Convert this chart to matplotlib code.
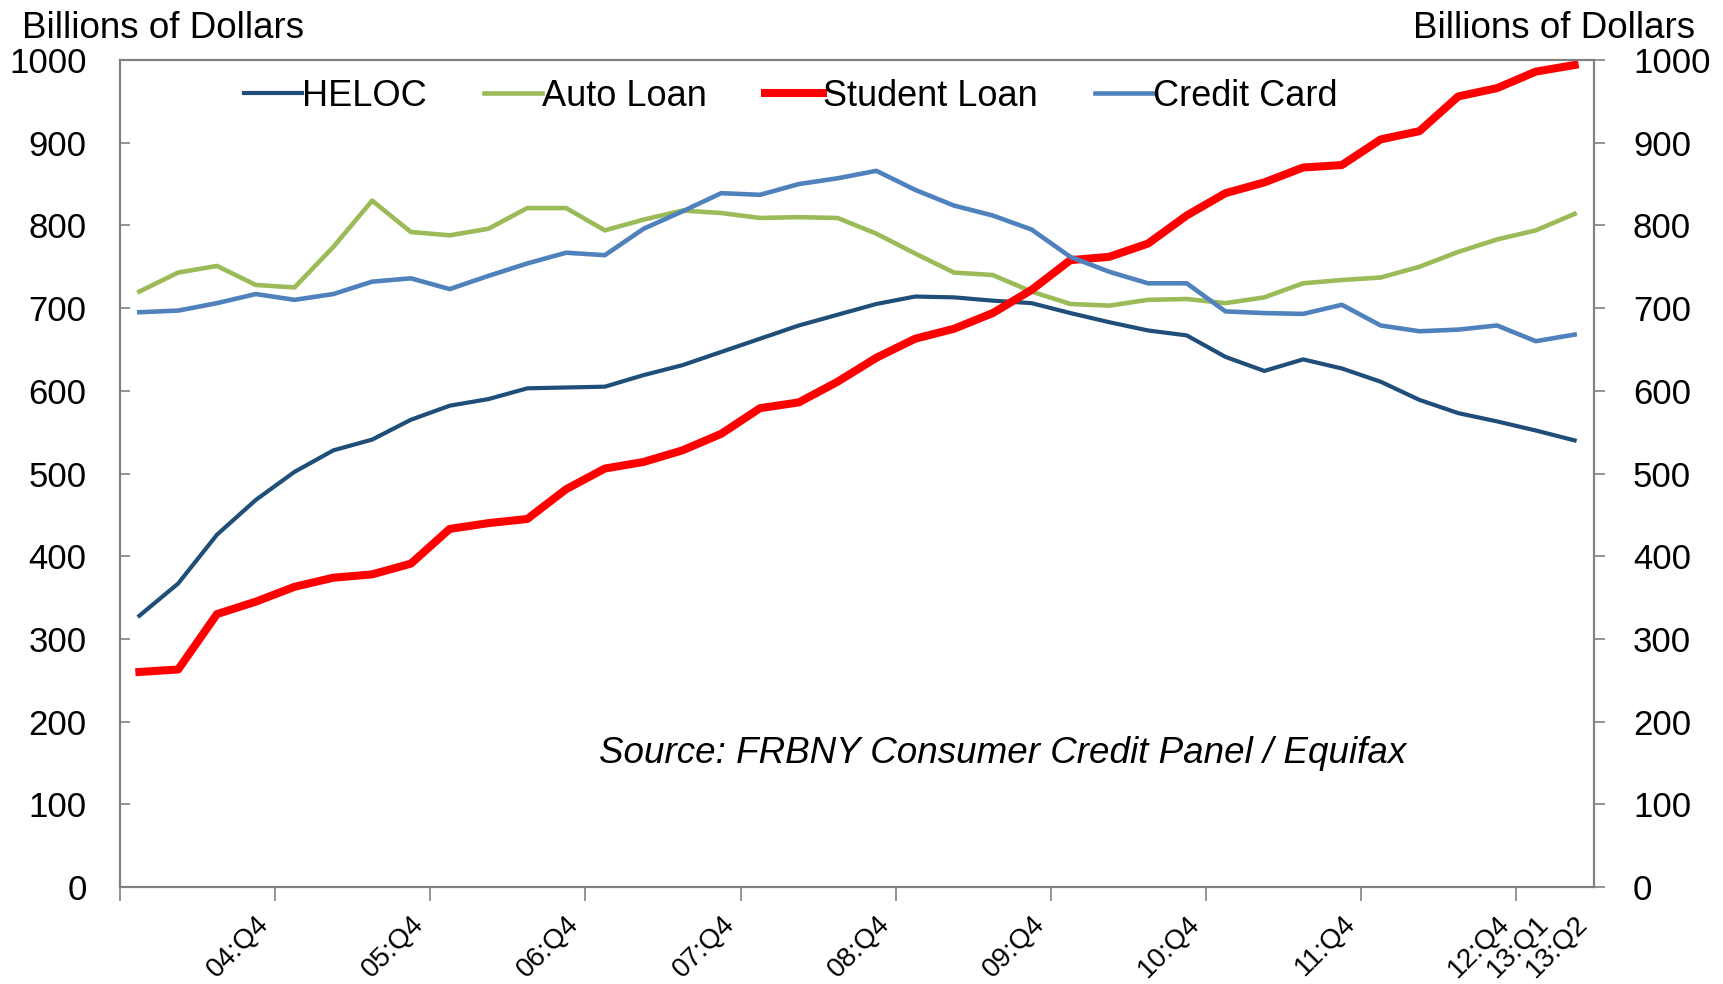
import numpy as np
import matplotlib.pyplot as plt

plt.rcParams["font.family"] = ["Liberation Sans", "DejaVu Sans"]

# quarterly balances, 04:Q1 .. 13:Q2 (billions of dollars)
quarters = ["%02d:Q%d" % (y, q) for y in range(4, 14) for q in range(1, 5)][:38]
heloc = [328, 367, 426, 468, 502, 528, 541, 565, 582, 590, 603, 604, 605, 619, 631, 647,
         663, 679, 692, 705, 714, 713, 709, 706, 694, 683, 673, 667, 641, 624, 638, 627,
         611, 589, 573, 563, 552, 540]
auto = [720, 743, 751, 728, 725, 774, 830, 792, 788, 796, 821, 821, 794, 807, 818, 815,
        809, 810, 809, 790, 766, 743, 740, 720, 705, 703, 710, 711, 706, 713, 730, 734,
        737, 750, 768, 783, 794, 814]
student = [260, 263, 330, 345, 363, 374, 378, 391, 433, 440, 445, 481, 506, 514, 528, 548,
           579, 586, 611, 640, 663, 675, 694, 722, 758, 762, 778, 812, 839, 852, 870, 873,
           904, 914, 956, 966, 986, 994]
credit = [695, 697, 706, 717, 710, 717, 732, 736, 723, 739, 754, 767, 764, 796, 817, 839,
          837, 850, 857, 866, 843, 824, 812, 795, 762, 744, 730, 730, 696, 694, 693, 704,
          679, 672, 674, 679, 660, 668]

shown = ["04:Q4", "05:Q4", "06:Q4", "07:Q4", "08:Q4", "09:Q4", "10:Q4", "11:Q4",
         "12:Q4", "13:Q1", "13:Q2"]

x = np.arange(len(quarters))

fig = plt.figure(figsize=(17.24, 9.84), dpi=100)
ax = fig.add_axes([0.0696, 0.0986, 0.8550, 0.8404])

ax.plot(x, heloc, c="#1F4E79", lw=3.0, label="HELOC", solid_joinstyle="round")
ax.plot(x, auto, c="#9BBB59", lw=3.3, label="Auto Loan", solid_joinstyle="round")
ax.plot(x, student, c="#FF0000", lw=5.8, label="Student Loan", solid_joinstyle="round")
ax.plot(x, credit, c="#4F81BD", lw=3.3, label="Credit Card", solid_joinstyle="round")

ax.set_xlim(-0.5, len(quarters) - 0.5)
ax.set_ylim(0, 1000)
ax.set_yticks(np.arange(0, 1001, 100))

pos = [quarters.index(q) for q in shown]
ax.set_xticks(pos)
ax.set_xticklabels(shown, rotation=45, ha="right", va="top", rotation_mode="anchor", fontsize=20)
ax.tick_params(axis="x", length=0, pad=17)
ax.set_xticks(np.arange(-0.5, 36, 4), minor=True)
ax.tick_params(axis="x", which="minor", length=10, width=1.2, color="#808080", direction="out")

ax.tick_params(axis="y", labelsize=25, direction="in", length=7, width=1.2, color="#808080", pad=24)

ax2 = ax.twinx()
ax2.set_ylim(0, 1000)
ax2.set_yticks(np.arange(0, 1001, 100))
ax2.tick_params(axis="y", labelsize=25, direction="out", length=8, width=1.2, color="#808080", pad=20)

for a in (ax, ax2):
    for s in a.spines.values():
        s.set_color("#808080")
        s.set_linewidth(1.5)

fig.text(0.013, 0.9614, "Billions of Dollars", fontsize=26.5, ha="left", va="baseline")
fig.text(0.983, 0.9614, "Billions of Dollars", fontsize=26.5, ha="right", va="baseline")

ax.text(0.599, 0.162, "Source: FRBNY Consumer Credit Panel / Equifax", transform=ax.transAxes,
        fontsize=26.5, style="italic", ha="center", va="center")

ax.legend(loc="center", bbox_to_anchor=(0.455, 0.956), ncol=4, frameon=False, fontsize=26,
          handlelength=1.6, handletextpad=0.0, columnspacing=1.6)

fig.savefig("out.png", dpi=100)
